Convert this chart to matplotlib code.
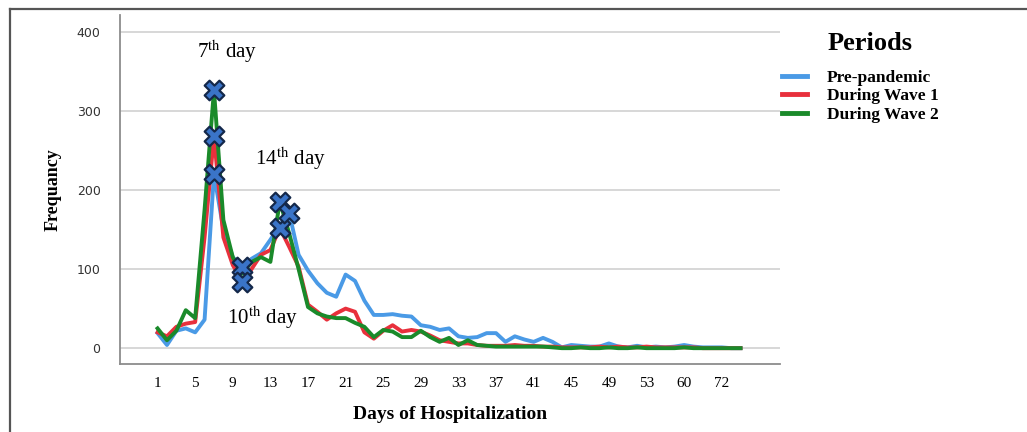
import numpy as np
import matplotlib.pyplot as plt
from matplotlib.lines import Line2D

# --- Data ---
days = list(range(1, 54)) + [54, 55, 57, 60, 62, 64, 67, 72, 78, 85]

pre_pandemic = [19, 4, 22, 25, 20, 36, 220, 150, 115, 102, 113, 120, 137, 155, 171,
                118, 98, 82, 70, 65, 93, 85, 60, 42, 42, 43, 41, 40, 29, 27, 23, 25,
                15, 13, 14, 19, 19, 8, 15, 11, 8, 13, 8, 1, 4, 3, 2, 2, 6, 2, 1, 3,
                1, 2, 1, 2, 4, 2, 1, 1, 1, 0, 0]
wave_1 = [20, 15, 27, 31, 33, 140, 268, 140, 105, 84, 100, 118, 124, 152, 128,
          103, 55, 46, 36, 44, 50, 46, 20, 12, 22, 29, 21, 23, 21, 16, 10, 8,
          6, 6, 4, 3, 3, 3, 4, 3, 3, 2, 2, 1, 1, 1, 1, 2, 1, 2, 1, 1,
          2, 1, 1, 1, 1, 1, 0, 0, 0, 0, 0]
wave_2 = [25, 10, 22, 48, 38, 175, 326, 162, 115, 94, 109, 115, 109, 185, 145,
          100, 52, 44, 40, 38, 38, 32, 27, 14, 23, 21, 14, 14, 22, 14, 8, 13,
          4, 10, 4, 3, 2, 2, 2, 2, 2, 2, 1, 0, 0, 1, 0, 0, 1, 0, 0, 1,
          0, 0, 0, 0, 1, 0, 0, 0, 0, 0, 0]

# highlighted points (day, frequency)
mark_days = [7, 7, 7, 10, 10, 14, 14, 15]
mark_vals = [326, 268, 220, 102, 84, 185, 152, 171]

series_names = ["Pre-pandemic", "During Wave 1", "During Wave 2"]
series_colors = ["#4a9ae6", "#e8303c", "#1a8a2a"]

tick_labels = [str(d) for d in days[::4]]

# --- Plotting ---
plt.rcParams["mathtext.fontset"] = "stix"
fig = plt.figure(figsize=(10.27, 4.32), dpi=100)
ax = fig.add_axes([0.1168, 0.1574, 0.6427, 0.8079])

x = np.arange(len(days))
for vals, col in zip([pre_pandemic, wave_1, wave_2], series_colors):
    ax.plot(x, vals, color=col, lw=2.8, solid_joinstyle="round", zorder=3)

mx = [days.index(d) for d in mark_days]
ax.scatter(mx, mark_vals, marker="X", s=200, color="#3a74c8",
           edgecolors="#14284a", linewidths=1.6, zorder=5)

serif = "Liberation Serif"
ax.text(7.4, 375, r"7$^{\mathrm{th}}$ day", fontsize=15, family=serif,
        ha="center", va="center")
ax.text(14.1, 240, r"14$^{\mathrm{th}}$ day", fontsize=15, family=serif,
        ha="center", va="center")
ax.text(11.2, 38, r"10$^{\mathrm{th}}$ day", fontsize=15, family=serif,
        ha="center", va="center")

ax.set_xlim(-4, 66.2)
ax.set_ylim(-20, 421)
ax.set_yticks([0, 100, 200, 300, 400])
ax.set_xticks(x[::4])
ax.set_xticklabels(tick_labels, family=serif, fontsize=11)
ax.tick_params(axis="y", length=0, pad=14, labelsize=9, labelcolor="#333333")
ax.tick_params(axis="x", length=0, pad=9)
ax.grid(axis="y", color="#d4d4d4", lw=1.3)
ax.set_axisbelow(True)

for s in ["top", "right"]:
    ax.spines[s].set_visible(False)
ax.spines["left"].set_color("#8c8c8c")
ax.spines["bottom"].set_color("#8c8c8c")
ax.spines["left"].set_linewidth(1.3)
ax.spines["bottom"].set_linewidth(1.3)

ax.set_ylabel("Frequancy", family=serif, fontsize=13, fontweight="bold",
              labelpad=11)
ax.set_xlabel("Days of Hospitalization", family=serif, fontsize=14,
              fontweight="bold", labelpad=12)

handles = [Line2D([0], [0], color=c, lw=3.5) for c in series_colors]
leg = fig.legend(handles, series_names, loc="upper left",
                 bbox_to_anchor=(0.761, 0.838), frameon=False,
                 prop={"family": serif, "weight": "bold", "size": 12.5},
                 handlelength=1.45, handletextpad=1.15, labelspacing=0.12,
                 borderaxespad=0, borderpad=0)
fig.text(0.806, 0.9, "Periods", family=serif, fontweight="bold", fontsize=19,
         ha="left", va="center")

# outer frame (top and left border lines)
fig.add_artist(Line2D([0.0097, 1.0], [0.979, 0.979], color="#555555", lw=1.6,
                      transform=fig.transFigure))
fig.add_artist(Line2D([0.0097, 0.0097], [0.0, 0.979], color="#555555", lw=1.6,
                      transform=fig.transFigure))

plt.savefig("out.png", dpi=100)
